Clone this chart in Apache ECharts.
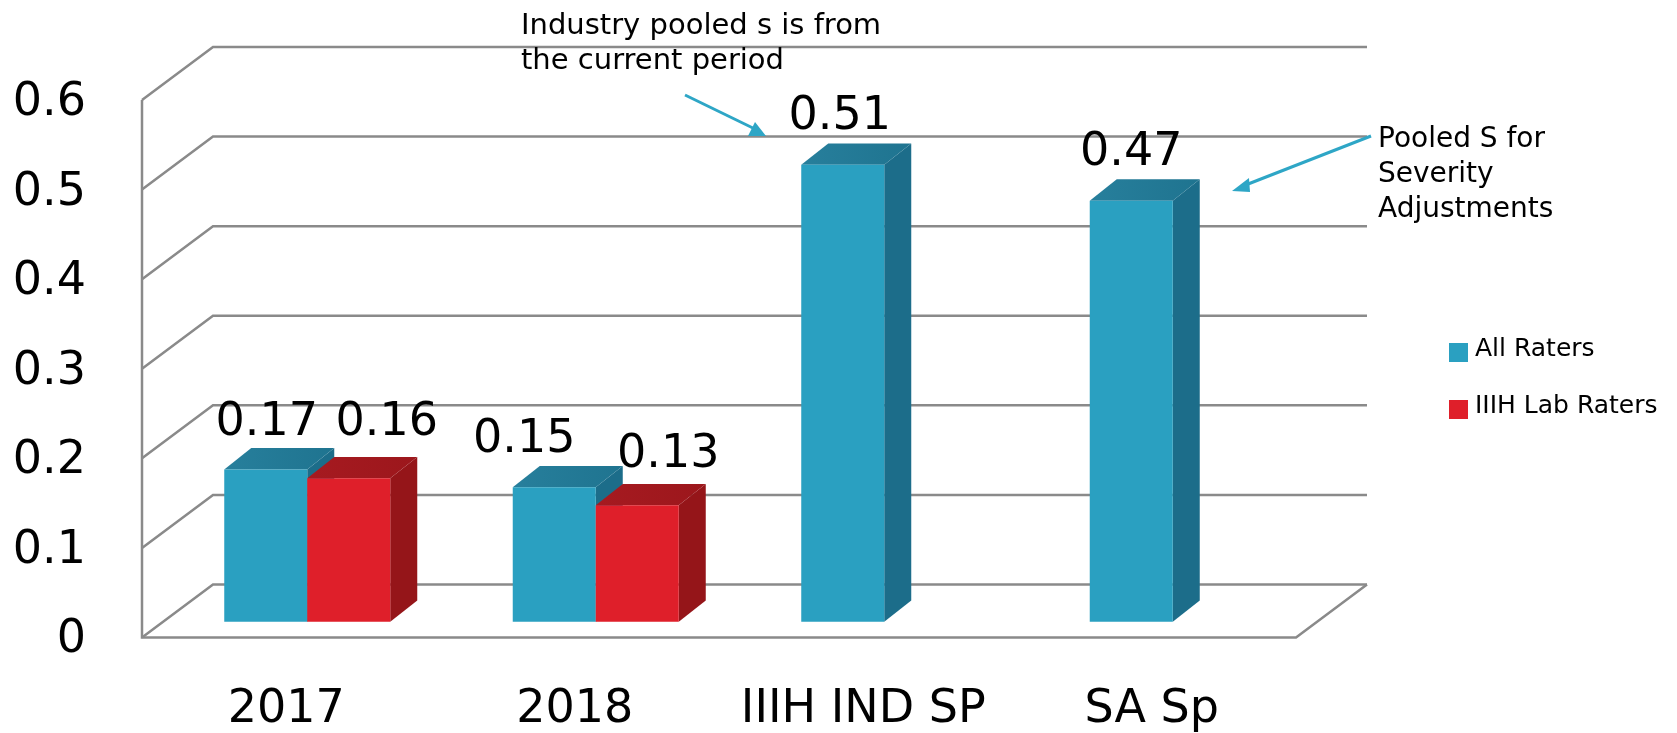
<!DOCTYPE html>
<html>
<head>
<meta charset="utf-8">
<style>html,body{margin:0;padding:0;background:#fff}#c{width:1677px;height:733px}</style>
<script src="https://cdn.jsdelivr.net/npm/echarts@6/dist/echarts.min.js"></script>
</head>
<body>
<div id="c"></div>
<script>
const categories = ['2017', '2018', 'IIIH IND SP', 'SA Sp'];
const allRaters = [0.17, 0.15, 0.51, 0.47];
const labRaters = [0.16, 0.13, null, null];
const yTicks = [0, 0.1, 0.2, 0.3, 0.4, 0.5, 0.6];

const FONT = '"DejaVu Sans"';
const WALL_DX = 71, WALL_DY = -53;   // depth of the chart box
const BAR_DX = 21, BAR_DY = -15.8;   // front plane of the bars, from the front of the box
const DEPTH_DX = 27, DEPTH_DY = -21.3; // depth of a bar
const BAR_BAND = 0.2877;             // bar width as a share of a category band
const GRID = '#8a8a8a';

// label nudges [dx, dy] relative to the bar's front-top centre, by series then category
const labelNudge = {
  all: [[1, -46], [-30, -47], [-3, -48], [0, -48]],
  lab: [[38, -55], [31, -50]]
};

function wallItem(params, api) {
  const r = params.coordSys;
  const v = api.value(0);
  const y = api.coord([0, v])[1];
  const x0 = r.x, x1 = r.x + r.width;
  const line = { stroke: GRID, lineWidth: 2.5, fill: null };
  const kids = [{
    type: 'polyline',
    shape: { points: [[x0, y], [x0 + WALL_DX, y + WALL_DY], [x1 + WALL_DX, y + WALL_DY]] },
    style: line
  }];
  if (v === 0) {
    kids.push({ type: 'polyline', shape: { points: [[x0, r.y], [x0, y], [x1, y], [x1 + WALL_DX, y + WALL_DY]] }, style: line });
  }
  return { type: 'group', children: kids };
}

function barRenderer(side, colors, nudges) {
  return function (params, api) {
    const v = api.value(1);
    if (v == null || isNaN(v)) return;
    const i = api.value(0);
    const c = api.coord([i, 0]);
    const top = api.coord([i, v])[1] + BAR_DY;
    const base = c[1] + BAR_DY;
    const w = api.size([1, 0])[0] * BAR_BAND;
    const x0 = c[0] + BAR_DX + (side < 0 ? -w : 0);
    const x1 = x0 + w;
    const dx = DEPTH_DX, dy = DEPTH_DY;
    const n = nudges[i];
    const grad = (a, b, d) => new echarts.graphic.LinearGradient(0, 0, d, 1 - d, [{ offset: 0, color: a }, { offset: 1, color: b }]);
    return {
      type: 'group',
      children: [
        { type: 'polygon', shape: { points: [[x1, top], [x1 + dx, top + dy], [x1 + dx, base + dy], [x1, base]] }, style: { fill: colors.side } },
        { type: 'polygon', shape: { points: [[x0, top], [x0 + dx, top + dy], [x1 + dx, top + dy], [x1, top]] }, style: { fill: grad(colors.top, colors.topEnd, 1) } },
        { type: 'rect', shape: { x: x0, y: top, width: w, height: base - top }, style: { fill: colors.front } },
        { type: 'text', x: (x0 + x1) / 2 + n[0], y: top + n[1],
          style: { text: String(v), font: '46px ' + FONT, fill: '#000', align: 'center', verticalAlign: 'middle' } }
      ]
    };
  };
}

const blue = { front: '#2aa0c1', top: '#277f9c', topEnd: '#1f7490', side: '#1c6d8a' };
const red = { front: '#df1f2a', top: '#a61a20', topEnd: '#9c171c', side: '#951519' };

const chart = echarts.init(document.getElementById('c'), null, { renderer: 'canvas' });
chart.setOption({
  animation: false,
  backgroundColor: '#fff',
  grid: { left: 142, top: 100, width: 1154, height: 537.5, outerBoundsMode: 'none' },
  xAxis: {
    type: 'category', data: categories,
    axisLine: { show: false }, axisTick: { show: false }, splitLine: { show: false },
    axisLabel: { margin: 50, color: '#000', fontFamily: FONT, fontSize: 46, interval: 0 }
  },
  yAxis: {
    type: 'value', min: 0, max: 0.6, interval: 0.1,
    axisLine: { show: false }, axisTick: { show: false }, splitLine: { show: false },
    axisLabel: {
      margin: 56, color: '#000', fontFamily: FONT, fontSize: 46,
      formatter: v => '{a|' + v + '}',
      rich: { a: { fontFamily: FONT, fontSize: 46, color: '#000', padding: [6, 0, 0, 0] } }
    }
  },
  legend: {
    data: ['All Raters', 'IIIH Lab Raters'],
    orient: 'vertical', left: 1449, top: 337, padding: 0, itemWidth: 19, itemHeight: 19, itemGap: 26,
    icon: 'rect',
    formatter: n => '{a|' + n + '}',
    textStyle: {
      color: '#000', fontFamily: FONT, fontSize: 25, lineHeight: 19, padding: [0, 0, 0, 2],
      rich: { a: { fontFamily: FONT, fontSize: 25, color: '#000', lineHeight: 19, padding: [0, 0, 6, 0] } }
    }
  },
  series: [
    { type: 'custom', name: 'walls', data: yTicks.map(t => [t]), encode: { y: 0 }, renderItem: wallItem, silent: true, z: 1, clip: false },
    { type: 'custom', name: 'All Raters', data: categories.map((c, i) => [i, allRaters[i]]), encode: { x: 0, y: 1 },
      itemStyle: { color: '#2aa0c1' }, renderItem: barRenderer(-1, blue, labelNudge.all), z: 2, clip: false },
    { type: 'custom', name: 'IIIH Lab Raters', data: categories.map((c, i) => [i, labRaters[i]]), encode: { x: 0, y: 1 },
      itemStyle: { color: '#df1f2a' }, renderItem: barRenderer(1, red, labelNudge.lab), z: 3, clip: false }
  ],
  graphic: [
    { type: 'text', x: 521, y: 12, z: 10, style: { text: 'Industry pooled s is from', font: '29px ' + FONT, fill: '#000' } },
    { type: 'text', x: 521, y: 47, z: 10, style: { text: 'the current period', font: '29px ' + FONT, fill: '#000' } },
    { type: 'line', z: 10, shape: { x1: 685, y1: 95, x2: 757, y2: 130 }, style: { stroke: '#2ea6c6', lineWidth: 3 } },
    { type: 'polygon', z: 10, shape: { points: [[766, 136], [748, 136], [755, 122]] }, style: { fill: '#2ea6c6' } },
    { type: 'text', x: 1378, y: 126, z: 10, style: { text: 'Pooled S for', font: '28px ' + FONT, fill: '#000' } },
    { type: 'text', x: 1378, y: 161, z: 10, style: { text: 'Severity', font: '28px ' + FONT, fill: '#000' } },
    { type: 'text', x: 1378, y: 196, z: 10, style: { text: 'Adjustments', font: '28px ' + FONT, fill: '#000' } },
    { type: 'line', z: 10, shape: { x1: 1371, y1: 136, x2: 1243, y2: 186 }, style: { stroke: '#2ea6c6', lineWidth: 3 } },
    { type: 'polygon', z: 10, shape: { points: [[1232, 191], [1249, 178], [1250, 192]] }, style: { fill: '#2ea6c6' } }
  ]
});
</script>
</body>
</html>
